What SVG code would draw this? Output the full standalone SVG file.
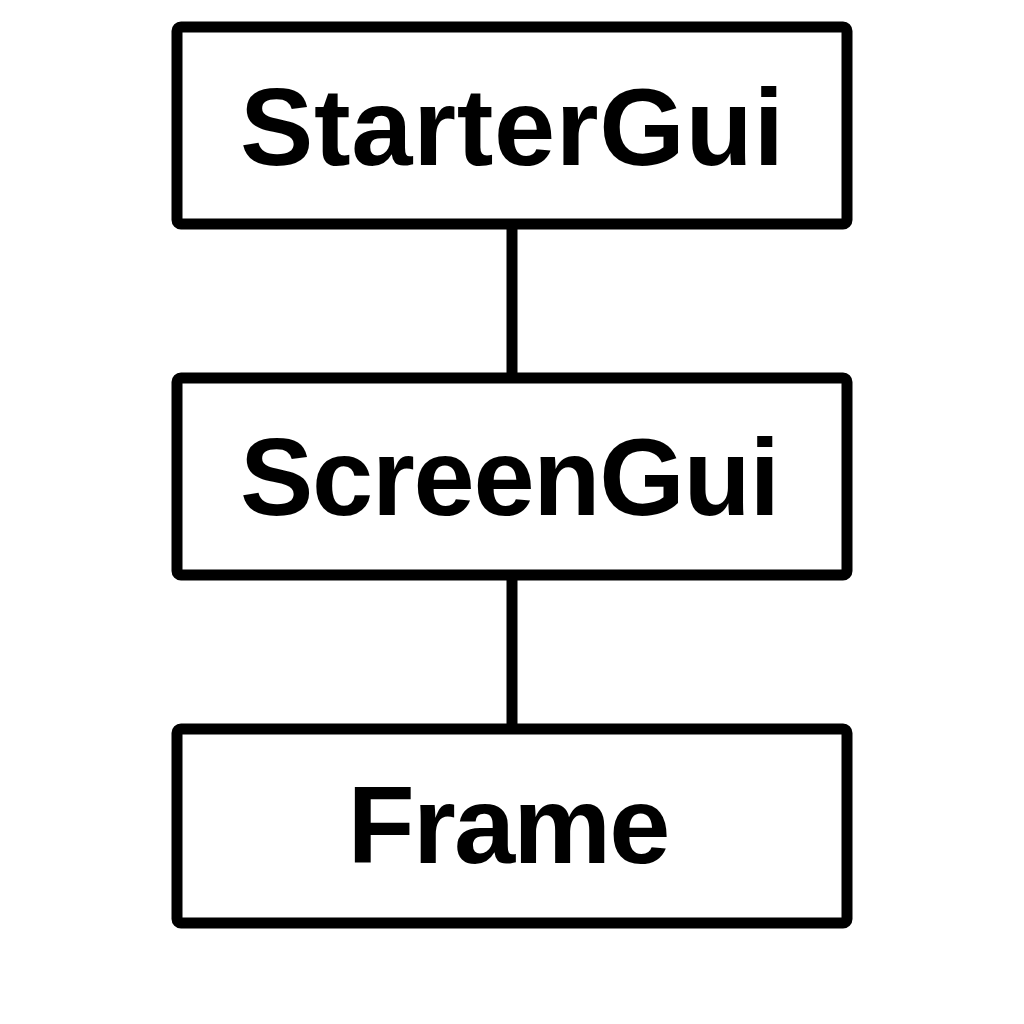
<svg xmlns="http://www.w3.org/2000/svg" width="1024" height="1024" viewBox="0 0 1024 1024">
<style>
.box{fill:#fff;stroke:#000;stroke-width:11;stroke-linejoin:round}
.lbl{font-family:"Liberation Sans",Arial,sans-serif;font-weight:bold;font-size:110px;text-anchor:middle;fill:#000}
.conn{stroke:#000;stroke-width:11}
</style>
<rect width="1024" height="1024" fill="#fff"/>
<g id="connectors">
<line class="conn" x1="512" y1="224" x2="512" y2="378"/>
<line class="conn" x1="512" y1="575" x2="512" y2="729"/>
</g>
<g id="startergui">
<rect class="box" x="177" y="27" width="670" height="197" rx="4"/>
<text class="lbl" x="512" y="165" textLength="544" lengthAdjust="spacing">StarterGui</text>
</g>
<g id="screengui">
<rect class="box" x="177" y="378" width="670" height="197" rx="4"/>
<text class="lbl" x="510" y="515" textLength="540" lengthAdjust="spacing">ScreenGui</text>
</g>
<g id="frame">
<rect class="box" x="177" y="729" width="670" height="194" rx="4"/>
<text class="lbl" x="509" y="863" textLength="323" lengthAdjust="spacing">Frame</text>
</g>
</svg>
